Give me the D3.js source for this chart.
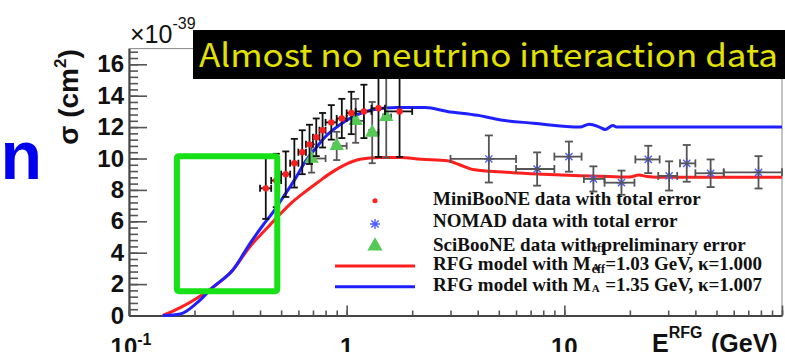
<!DOCTYPE html>
<html>
<head>
<meta charset="utf-8">
<script src="https://cdn.jsdelivr.net/npm/d3@7"></script>
<style>
  body { margin: 0; background: #fff; }
  svg { display: block; }
</style>
</head>
<body>
<svg id="chart" width="785" height="352"></svg>
<script>
// RFG model curves (E in GeV, sigma in 1e-39 cm^2)
const redE = [0.143, 0.172, 0.205, 0.243, 0.30, 0.36, 0.40, 0.44, 0.49, 0.55, 0.62, 0.74, 0.85, 0.95, 1.15, 1.42, 1.76, 2.2, 2.9, 3.3, 3.8, 5.8, 8.0, 11.8, 16, 20, 22, 24, 27, 100];
const redSigma = [0, 0.5, 1.1, 1.8, 2.9, 4.4, 5.1, 5.7, 6.4, 7.1, 7.7, 8.5, 9.1, 9.5, 9.95, 10.07, 10.07, 9.95, 9.85, 9.6, 9.3, 9.1, 9.0, 8.9, 8.85, 8.82, 8.95, 8.85, 8.8, 8.8];
const blueE = [0.143, 0.172, 0.205, 0.243, 0.30, 0.36, 0.41, 0.46, 0.52, 0.58, 0.645, 0.72, 0.80, 0.92, 1.12, 1.32, 1.7, 2.3, 2.9, 4.0, 5.1, 7.2, 11.8, 13, 14.5, 15.4, 16.7, 17.4, 100];
const blueSigma = [0, 0.1, 0.8, 1.8, 2.9, 4.6, 5.7, 6.6, 7.7, 8.7, 9.8, 10.65, 11.4, 12.1, 12.8, 13.1, 13.25, 13.25, 13.0, 12.75, 12.45, 12.25, 12.0, 12.18, 12.0, 11.85, 12.1, 12.0, 12.0];

// MiniBooNE
const mbE = [0.425, 0.475, 0.525, 0.575, 0.625, 0.675, 0.725, 0.775, 0.85, 0.95, 1.05, 1.2, 1.4, 1.75];
const mbLo = [0.40, 0.45, 0.50, 0.55, 0.60, 0.65, 0.70, 0.75, 0.80, 0.90, 1.00, 1.10, 1.30, 1.50];
const mbHi = [0.45, 0.50, 0.55, 0.60, 0.65, 0.70, 0.75, 0.80, 0.90, 1.00, 1.10, 1.30, 1.50, 2.00];
const mbSigma = [8.1, 8.6, 9.0, 9.7, 10.4, 10.9, 11.35, 11.8, 12.3, 12.55, 12.9, 13.0, 13.2, 13.0];
const mbErr = [1.95, 1.7, 1.45, 1.55, 1.4, 1.25, 1.2, 1.1, 1.1, 1.25, 1.35, 1.7, 3.1, 2.9];

// NOMAD
const nmE = [4.5, 7.5, 10.5, 13.6, 18.3, 24.3, 30.3, 36.5, 47, 78];
const nmLo = [3.0, 6.0, 9.0, 12.3, 15.3, 21.2, 27, 34, 40, 54];
const nmHi = [6.0, 9.0, 12.0, 15.3, 21.0, 27.4, 33, 40, 54, 100];
const nmSigma = [9.97, 9.33, 10.12, 8.7, 8.46, 9.94, 8.89, 9.69, 9.06, 9.12];
const nmErr = [1.5, 1.06, 0.96, 0.8, 0.77, 0.87, 0.93, 1.17, 0.88, 1.03];

// SciBooNE
const sbE = [0.69, 0.90, 1.10, 1.31, 1.52];
const sbLo = [0.67, 0.87, 1.07, 1.27, 1.47];
const sbHi = [0.80, 1.00, 1.20, 1.40, 1.60];
const sbSigma = [10.0, 10.8, 12.4, 11.65, 12.65];
const sbErr = [0.9, 0.9, 1.4, 1.95, 2.6];

// highlighted region (green box)
const boxE = [0.166, 0.48];
const boxSigma = [1.55, 10.15];

// axes
const yTicks = [0, 2, 4, 6, 8, 10, 12, 14, 16];
const xLabelValues = [0.1, 1, 10];
const xLabelBase = ["10", "1", "10"];
const xLabelExp = ["-1", "", ""];

const legendLabels = [
  "MiniBooNE data with total error",
  "NOMAD data with total error",
  "SciBooNE data with preliminary error"
];
const modelLabels = [
  ["RFG model with M", "=1.03 GeV, \u03ba=1.000"],
  ["RFG model with M", "=1.35 GeV, \u03ba=1.007"]
];

const RED = "#ff1f1f", BLUE = "#2020ff", GREEN = "#55c855", STAR = "#4f5cff";
const SANS = "'Liberation Sans', Arial, sans-serif";
const SERIF = "'Liberation Serif', 'Times New Roman', serif";

const svg = d3.select("#chart");
const x = d3.scaleLog().domain([0.1, 100]).range([129, 782]);
const y = d3.scaleLinear().domain([0, 17]).range([315.5, 48.6]);

// frame
svg.append("rect")
  .attr("x", x(0.1)).attr("y", y(17))
  .attr("width", x(100) - x(0.1)).attr("height", y(0) - y(17))
  .attr("fill", "none").attr("stroke", "#888").attr("stroke-width", 1);

// y axis: minor then major
const yMinor = d3.range(0, 17, 0.4);
svg.append("g")
  .attr("transform", `translate(${x(0.1)},0)`)
  .call(d3.axisLeft(y).tickValues(yMinor).tickSizeInner(-9).tickSizeOuter(0).tickFormat(""))
  .call(g => g.selectAll("line").attr("stroke", "#555").attr("stroke-width", 1.6))
  .call(g => g.select(".domain").remove());

const yAxis = svg.append("g")
  .attr("transform", `translate(${x(0.1)},0)`)
  .call(d3.axisLeft(y).tickValues(yTicks).tickSizeInner(-18).tickSizeOuter(0).tickPadding(5))
  .call(g => g.selectAll("line").attr("stroke", "#555").attr("stroke-width", 1.6))
  .call(g => g.select(".domain").attr("stroke", "#444").attr("stroke-width", 2));
yAxis.selectAll("text")
  .attr("font-family", SANS).attr("font-weight", "bold").attr("font-size", 24).attr("fill", "#111");

// x axis
svg.append("g")
  .attr("transform", `translate(0,${y(0)})`)
  .call(d3.axisBottom(x).tickValues(x.ticks()).tickSizeInner(-5).tickSizeOuter(0).tickFormat(""))
  .call(g => g.selectAll("line").attr("stroke", "#555").attr("stroke-width", 1.6))
  .call(g => g.select(".domain").attr("stroke", "#444").attr("stroke-width", 2));
svg.append("g")
  .attr("transform", `translate(0,${y(0)})`)
  .call(d3.axisBottom(x).tickValues([0.1, 1, 10, 100]).tickSizeInner(-10).tickSizeOuter(0).tickFormat(""))
  .call(g => g.selectAll("line").attr("stroke", "#555").attr("stroke-width", 1.6))
  .call(g => g.select(".domain").remove());

const xl = svg.append("g").selectAll("text")
  .data(xLabelValues)
  .join("text")
  .attr("x", (d, i) => x(d) + (xLabelExp[i] ? 2 : 0))
  .attr("y", 355)
  .attr("text-anchor", "middle")
  .attr("font-family", SANS).attr("font-weight", "bold").attr("font-size", 24).attr("fill", "#111");
xl.append("tspan").text((d, i) => xLabelBase[i]);
xl.append("tspan").attr("font-size", 16).attr("dy", -10).text((d, i) => xLabelExp[i]);

// x title
const xt = svg.append("text")
  .attr("x", 652).attr("y", 352)
  .attr("font-family", SANS).attr("font-weight", "bold").attr("font-size", 25).attr("fill", "#111");
xt.append("tspan").text("E");
xt.append("tspan").attr("font-size", 16).attr("dy", -14).text("RFG");
xt.append("tspan").attr("x", 670).attr("dy", 22).attr("font-size", 14).text("\u03bd");
xt.append("tspan").attr("x", 711).attr("dy", -8).text("(GeV)");

// y title
const yt = svg.append("text")
  .attr("transform", "translate(78,97) rotate(-90)")
  .attr("text-anchor", "middle")
  .attr("font-family", SANS).attr("font-weight", "bold").attr("font-size", 28).attr("fill", "#111");
yt.append("tspan").text("\u03c3 (cm");
yt.append("tspan").attr("font-size", 17).attr("dy", -12).text("2");
yt.append("tspan").attr("dy", 12).text(")");

// multiplier
const mult = svg.append("text")
  .attr("x", 130).attr("y", 43)
  .attr("font-family", SANS).attr("font-size", 25).attr("fill", "#111");
mult.append("tspan").text("\u00d710");
mult.append("tspan").attr("font-size", 16).attr("dy", -14).text("-39");

// model curves
const line = d3.line().x(d => x(d[0])).y(d => y(d[1])).curve(d3.curveMonotoneX);
svg.append("path")
  .datum(d3.zip(redE, redSigma))
  .attr("d", line).attr("fill", "none").attr("stroke", RED).attr("stroke-width", 3);
svg.append("path")
  .datum(d3.zip(blueE, blueSigma))
  .attr("d", line).attr("fill", "none").attr("stroke", BLUE).attr("stroke-width", 3);

// error bar helper
function errorBars(E, lo, hi, s, err, color, cap) {
  const g = svg.append("g").attr("stroke", color).attr("stroke-width", 1.8);
  const rows = E.map((e, i) => ({ e, lo: lo[i], hi: hi[i], s: s[i], err: err[i] }));
  g.selectAll(".v").data(rows).join("line")
    .attr("x1", d => x(d.e)).attr("x2", d => x(d.e))
    .attr("y1", d => y(d.s - d.err)).attr("y2", d => y(d.s + d.err));
  g.selectAll(".h").data(rows).join("line")
    .attr("x1", d => x(d.lo)).attr("x2", d => x(d.hi))
    .attr("y1", d => y(d.s)).attr("y2", d => y(d.s));
  // caps
  g.selectAll(".ct").data(rows.flatMap(d => [d.s - d.err, d.s + d.err].map(v => ({ e: d.e, v })))).join("line")
    .attr("x1", d => x(d.e) - cap).attr("x2", d => x(d.e) + cap)
    .attr("y1", d => y(d.v)).attr("y2", d => y(d.v));
  g.selectAll(".cs").data(rows.flatMap(d => [d.lo, d.hi].map(v => ({ s: d.s, v })))).join("line")
    .attr("x1", d => x(d.v)).attr("x2", d => x(d.v))
    .attr("y1", d => y(d.s) - cap).attr("y2", d => y(d.s) + cap);
  return rows;
}

const starPath = "M0,-5V5M-5,0H5M-3.6,-3.6L3.6,3.6M-3.6,3.6L3.6,-3.6";

// NOMAD
const nmRows = nmE.map((e, i) => ({ e, s: nmSigma[i] }));
svg.append("g").selectAll("path").data(nmRows).join("path")
  .attr("transform", d => `translate(${x(d.e)},${y(d.s)})`)
  .attr("d", starPath).attr("stroke", STAR).attr("stroke-width", 1.4).attr("fill", "none");
errorBars(nmE, nmLo, nmHi, nmSigma, nmErr, "#555", 4);

// SciBooNE
errorBars(sbE, sbLo, sbHi, sbSigma, sbErr, "#555", 3.5);
svg.append("g").selectAll("path").data(sbE.map((e, i) => ({ e, s: sbSigma[i] }))).join("path")
  .attr("transform", d => `translate(${x(d.e)},${y(d.s)})`)
  .attr("d", d3.symbol(d3.symbolTriangle, 90)).attr("fill", GREEN);

// MiniBooNE
errorBars(mbE, mbLo, mbHi, mbSigma, mbErr, "#111", 3.5);
svg.append("g").selectAll("circle").data(mbE.map((e, i) => ({ e, s: mbSigma[i] }))).join("circle")
  .attr("cx", d => x(d.e)).attr("cy", d => y(d.s)).attr("r", 3.2).attr("fill", RED);

// legend
const LX = 433;
const legY = [205, 226.5, 250.5];
svg.append("circle").attr("cx", 375).attr("cy", 200.7).attr("r", 2.5).attr("fill", RED);
svg.append("path").attr("transform", "translate(375,224)").attr("d", starPath)
  .attr("stroke", STAR).attr("stroke-width", 1.4).attr("fill", "none");
svg.append("path").attr("transform", "translate(375,246)")
  .attr("d", d3.symbol(d3.symbolTriangle, 100)).attr("fill", GREEN);
svg.append("line").attr("x1", 335).attr("x2", 415).attr("y1", 266).attr("y2", 266)
  .attr("stroke", RED).attr("stroke-width", 3);
svg.append("line").attr("x1", 335).attr("x2", 415).attr("y1", 286.7).attr("y2", 286.7)
  .attr("stroke", BLUE).attr("stroke-width", 3);

svg.append("g").selectAll("text").data(legendLabels).join("text")
  .attr("x", LX).attr("y", (d, i) => legY[i])
  .attr("font-family", SERIF).attr("font-weight", "bold").attr("font-size", 19).attr("fill", "#111")
  .text(d => d);

const modelY = [270, 290.7];
modelLabels.forEach((parts, i) => {
  const t = svg.append("text").attr("x", LX).attr("y", modelY[i])
    .attr("font-family", SERIF).attr("font-weight", "bold").attr("font-size", 19).attr("fill", "#111")
    .text(parts[0]);
  const w = t.node().getComputedTextLength();
  const sup = svg.append("text").attr("x", LX + w + 1).attr("y", modelY[i] - 18)
    .attr("font-family", SERIF).attr("font-weight", "bold").attr("font-size", 12).attr("fill", "#111")
    .text("eff");
  svg.append("text").attr("x", LX + w + 1).attr("y", modelY[i] + 1)
    .attr("font-family", SERIF).attr("font-weight", "bold").attr("font-size", 11).attr("fill", "#111")
    .text("A");
  const sw = sup.node().getComputedTextLength();
  svg.append("text").attr("x", LX + w + sw + 1).attr("y", modelY[i])
    .attr("font-family", SERIF).attr("font-weight", "bold").attr("font-size", 19).attr("fill", "#111")
    .text(parts[1]);
});

// green highlight box
svg.append("rect")
  .attr("x", x(boxE[0])).attr("y", y(boxSigma[1]))
  .attr("width", x(boxE[1]) - x(boxE[0])).attr("height", y(boxSigma[0]) - y(boxSigma[1]))
  .attr("rx", 2)
  .attr("fill", "none").attr("stroke", "#16e016").attr("stroke-width", 6);

// title banner
svg.append("rect").attr("x", 193).attr("y", 30).attr("width", 592).attr("height", 49).attr("fill", "#000");
svg.append("text")
  .attr("x", 199).attr("y", 67)
  .attr("font-family", "'Noto Sans CJK JP', 'Noto Sans', sans-serif").attr("font-size", 32)
  .attr("fill", "#e2e200")
  .attr("textLength", 579).attr("lengthAdjust", "spacingAndGlyphs")
  .text("Almost no neutrino interaction data");

// big blue letter on the left edge
svg.append("text")
  .attr("x", 0.5).attr("y", 178.5)
  .attr("font-family", SANS).attr("font-weight", "bold").attr("font-size", 68)
  .attr("fill", "#0000ee")
  .text("n");
</script>
</body>
</html>
